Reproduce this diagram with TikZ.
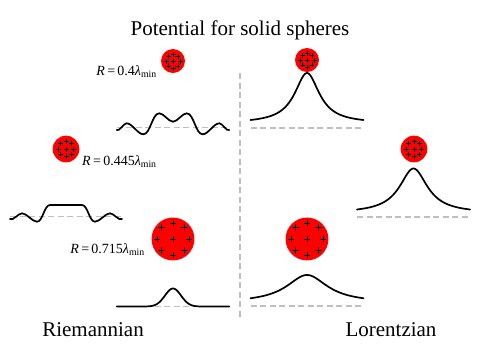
\documentclass[tikz,border=0pt]{standalone}
\usepackage{fontspec}
\setmainfont{Liberation Serif}
\tikzset{
  sphere/.style={circle,fill=red,inner sep=0pt,minimum size=#1},
  pot/.style={line width=1.7pt,line cap=round},
  wave/.style={pot,looseness=0.7},
  zero/.style={black!25,line width=1.2pt,dash pattern=on 6pt off 3.5pt},
  charge/.style={line width=0.8pt},
  big/.style={font=\fontsize{21}{25}\selectfont,inner sep=0pt},
  rlab/.style={font=\fontsize{14}{17}\selectfont,inner sep=0pt}
}
% #1 sphere, #2 ring radius, #3 half size of a plus
\newcommand{\charges}[3]{%
  \foreach \a in {0,45,...,315}
    \draw[charge] (#1) ++(\a:#2) +(-#3,0) -- +(#3,0) +(0,-#3) -- +(0,#3);
  \draw[charge] (#1) +(-#3,0) -- +(#3,0) +(0,-#3) -- +(0,#3);}
\begin{document}
\begin{tikzpicture}[x=1pt,y=-1pt]
    \useasboundingbox (0,0) rectangle (480,360);
    \coordinate (top) at (240,73);
    \coordinate (bot) at (240,320);
    \draw[zero] (top) -- (bot);

    \node[big,anchor=base] (title) at (240,35) {Potential for solid spheres};
    \node[big,anchor=base] (riem) at (93,336) {Riemannian};
    \node[big,anchor=base] (lor) at (391,336) {Lorentzian};

    % spheres
    \node[sphere=24pt] (sL1) at (173,61) {};
    \node[sphere=26.7pt] (sL2) at (66,149) {};
    \node[sphere=42.9pt] (sL3) at (173,239) {};
    \node[sphere=24pt] (sR1) at (307,60) {};
    \node[sphere=26.7pt] (sR2) at (414,149) {};
    \node[sphere=42.9pt] (sR3) at (307,239) {};
    \foreach \s in {sL1,sR1} {\charges{\s}{7pt}{2.5pt}}
    \foreach \s in {sL2,sR2} {\charges{\s}{7.8pt}{2.5pt}}
    \foreach \s in {sL3,sR3} {\charges{\s}{16pt}{3.2pt}}

    \node[rlab,anchor=base east] (rL1) at (157,75) {\textit{R}\,=\,0.4\textit{λ}\textsubscript{min}};
    \node[rlab,anchor=base west] (rL2) at (82,165.7) {\textit{R}\,=\,0.445\textit{λ}\textsubscript{min}};
    \node[rlab,anchor=base east] (rL3) at (145,253) {\textit{R}\,=\,0.715\textit{λ}\textsubscript{min}};

    % Riemannian potentials
    \draw[zero] (116.7,127.5) -- (229.3,127.5);
    \draw[zero] (10,216.7) -- (122,216.7);
    \draw[zero] (116.7,306.5) -- (229.3,306.5);
    \draw[wave] (116.7,130) to[out=-35,in=180] (126.7,123.3) to[out=0,in=180] (143.3,134.3)
      to[out=0,in=180] (159.3,113.3) to[out=0,in=180] (173,121.7) to[out=0,in=180] (186.7,113.3)
      to[out=0,in=180] (202.7,134.3) to[out=0,in=180] (219.3,123.3) to[out=0,in=215] (229.3,130);
    \draw[wave] (10,219) to[out=-35,in=180] (22,213.3) to[out=0,in=180] (37,221.7)
      to[out=0,in=180] (50,205) -- (82,205) to[out=0,in=180] (95,221.7)
      to[out=0,in=180] (110,213.3) to[out=0,in=215] (122,219);
    \draw[pot] plot[domain=-56.3:56.3,samples=90] ({173+\x},{306.5-18*exp(-((\x)^2)/130)});

    % Lorentzian potentials
    \foreach \cx/\cy/\c/\A/\w in {307/128/4.7/50.3/15, 413.5/217/3.8/44.7/17, 307/306/3.2/27.8/25} {
      \draw[zero] ({\cx-56.5},\cy) -- ({\cx+56.5},\cy);
      \draw[pot] plot[domain=-56.5:56.5,samples=90] ({\cx+\x},{\cy-\c-\A/(1+((\x)/\w)^2)});}
  \end{tikzpicture}
\end{document}
